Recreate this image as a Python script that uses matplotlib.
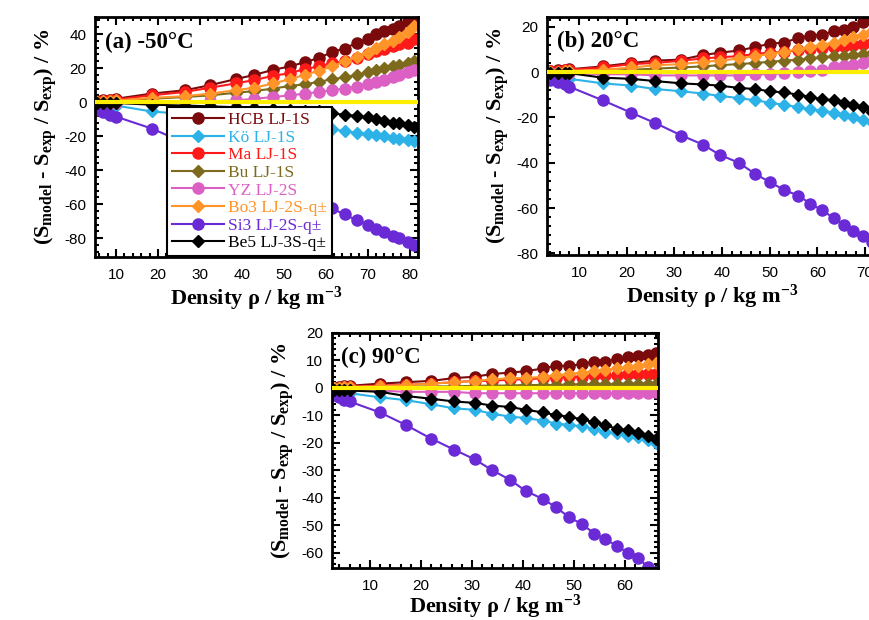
import matplotlib
matplotlib.use('Agg')
import matplotlib.pyplot as plt
from matplotlib.ticker import MultipleLocator, AutoMinorLocator
from matplotlib.lines import Line2D

plt.rcParams['font.family'] = 'Liberation Sans'
plt.rcParams['axes.unicode_minus'] = False
plt.rcParams['mathtext.fontset'] = 'custom'
plt.rcParams['mathtext.bf'] = 'Liberation Serif:bold'
plt.rcParams['mathtext.rm'] = 'Liberation Serif:bold'
plt.rcParams['mathtext.default'] = 'bf'

names = ['HCB LJ-1S', 'Kö LJ-1S', 'Ma LJ-1S', 'Bu LJ-1S', 'YZ LJ-2S',
         'Bo3 LJ-2S-q±', 'Si3 LJ-2S-q±', 'Be5 LJ-3S-q±']
colors = ['#7a0a0c', '#2cb2e6', '#ff1a1a', '#7d6a1c', '#dc5fc4',
          '#ff9428', '#6a2ad6', '#000000']
markers = ['o', 'D', 'o', 'D', 'o', 'D', 'o', 'D']

# (a) -50 C
rho_a = [5.5, 7, 8.5, 10, 18.5, 26.5, 32.5, 38.5, 43, 47.5, 51.5, 55, 58.5, 61.5,
         64.5, 67.5, 70, 72, 74, 76, 77.5, 79.5, 81]
dev_a = {
    'HCB LJ-1S': [0.5, 1, 1.5, 2, 5, 7, 10, 13.5, 16, 19, 21, 23.5, 26, 29.5, 31.5, 35, 37, 40, 42, 43, 45, 47.5, 49],
    'Kö LJ-1S': [-1, -1.5, -2, -2, -5.5, -7, -8.5, -10, -11, -12, -13, -14, -15, -16, -17, -18, -19, -19.5, -20, -21, -21.5, -22.5, -23],
    'Ma LJ-1S': [0.3, 0.8, 1.2, 1.5, 4, 6, 8.5, 11, 13, 15.5, 17, 19.5, 21, 23, 24, 26, 28, 30, 31, 33, 34, 35, 37],
    'Bu LJ-1S': [0, 0.3, 0.5, 0.8, 2, 3, 4, 5.5, 6.5, 8, 9.5, 10.5, 12, 13.5, 14.5, 16, 17.5, 19, 20, 21, 22, 23, 24],
    'YZ LJ-2S': [-0.5, -0.5, -0.5, -0.5, -0.5, 0, 0.5, 1, 2, 3, 4, 5, 6, 7, 8, 9, 10.5, 12, 13, 14.5, 16, 17.5, 19],
    'Bo3 LJ-2S-q±': [0, 0.5, 0.8, 1, 2.5, 3.5, 5, 7, 8.5, 11, 13.5, 16, 18.5, 21, 24, 26.5, 29, 32, 34, 36, 38, 41, 45],
    'Si3 LJ-2S-q±': [-4.5, -6, -7.5, -8.5, -15.5, -24, -30.5, -37, -42, -47, -51.5, -55, -59, -62.5, -66, -69.5, -72, -74.5, -76.5, -78.5, -80, -82, -84],
    'Be5 LJ-3S-q±': [-0.5, -0.5, -0.5, -0.5, -1.5, -2, -2.5, -3, -3.5, -4, -4.5, -5, -5.5, -6.5, -7.5, -8, -9, -10, -11, -12, -12.5, -13.5, -14.5],
}

# (b) 20 C
rho_b = [4, 5.5, 7, 8, 15, 21, 26, 31.5, 36, 39.5, 43.5, 47, 50, 53, 56, 58.5, 61,
         63.5, 65.5, 67.5, 69.5, 71.5]
dev_b = {
    'HCB LJ-1S': [0.5, 0.8, 1, 1.2, 2.5, 4, 5, 5.5, 7.5, 8.5, 9.5, 11, 12.5, 13, 15, 16, 16.5, 18, 18.5, 20, 22, 24],
    'Kö LJ-1S': [-2, -2.5, -3, -3, -5, -6, -7.5, -8.5, -9.5, -10.5, -11.5, -12.5, -13.5, -14.5, -15.5, -16.5, -17, -18, -19, -20, -21, -22],
    'Ma LJ-1S': [0.3, 0.6, 0.8, 1, 2, 3.5, 4, 5, 6, 6.5, 7, 8, 8.5, 9, 9.5, 10, 10.5, 11, 11.5, 12, 12.5, 13],
    'Bu LJ-1S': [0, 0, 0.2, 0.3, 0.5, 1, 1.5, 2, 2.5, 3, 3.5, 4, 4.5, 5, 5.5, 6, 6.5, 7, 7, 7.5, 8, 8.5],
    'YZ LJ-2S': [-0.5, -0.5, -0.5, -0.5, -1, -1, -1.5, -1.5, -1.5, -1.5, -1.5, -1, -1, -0.5, 0, 0.5, 1, 2, 2.5, 3, 4, 5],
    'Bo3 LJ-2S-q±': [0, 0.2, 0.4, 0.5, 1, 2, 3, 3.5, 4.5, 5, 6, 7, 8, 9, 10, 11, 12, 13, 14, 15.5, 16.5, 18],
    'Si3 LJ-2S-q±': [-3.5, -4.5, -5.5, -6.5, -12.5, -18, -22.5, -28, -32, -36.5, -40, -45, -48.5, -52, -54.5, -58, -61, -64.5, -67.5, -70, -72.5, -75],
    'Be5 LJ-3S-q±': [-0.5, -0.5, -0.5, -0.5, -2.5, -3, -4, -5, -5.5, -6, -7, -7.5, -8.5, -9, -10, -11, -12, -12.5, -13.5, -14.5, -15.5, -17.5],
}

# (c) 90 C
rho_c = [3, 4, 5, 6, 12, 17, 22, 26.5, 30.5, 34, 37.5, 40.5, 44, 46.5, 49, 51.5,
         54, 56, 58.5, 60.5, 62.5, 64.5, 66]
dev_c = {
    'HCB LJ-1S': [0, 0.3, 0.5, 0.7, 1.5, 2, 2.5, 3.5, 4, 5, 5.5, 6, 7, 8, 8, 8.5, 9.5, 9.5, 10.5, 11, 11.5, 12, 12.5],
    'Kö LJ-1S': [-1.5, -1.5, -2, -2, -3.5, -4.5, -6, -7.5, -8, -9.5, -10.5, -11, -12, -13, -13.5, -14, -15, -16, -16.5, -17.5, -18, -19, -20],
    'Ma LJ-1S': [0, 0, 0.2, 0.3, 0.8, 1, 1.5, 2, 2.5, 2.5, 3, 3, 3.5, 3.5, 4, 4, 4.5, 4.5, 4.5, 5, 5, 5, 5],
    'Bu LJ-1S': [0, 0, 0, 0, 0.2, 0.3, 0.5, 0.5, 0.7, 0.8, 0.8, 1, 1, 1, 1.2, 1.2, 1.3, 1.3, 1.4, 1.5, 1.5, 1.5, 1.5],
    'YZ LJ-2S': [-0.5, -0.5, -0.5, -0.5, -1, -1.5, -1.5, -1.5, -2, -2, -2, -2, -2, -2, -2, -2, -2, -2, -2, -2, -2, -2, -1.5],
    'Bo3 LJ-2S-q±': [0, 0, 0.2, 0.3, 0.5, 1, 1.5, 2, 2.5, 3, 3.5, 3.5, 4, 4.5, 5, 5.5, 6, 6.5, 7, 7.5, 8, 8.5, 9],
    'Si3 LJ-2S-q±': [-2.5, -3.5, -4.5, -5, -9, -13.5, -18.5, -22.5, -26, -30, -33.5, -37.5, -40.5, -43.5, -47, -49.5, -53, -55, -57.5, -60, -62, -65, -67],
    'Be5 LJ-3S-q±': [-1, -1, -1, -1, -1.5, -3, -4, -5, -5.5, -6.5, -7, -8, -9, -10, -10.5, -11.5, -12.5, -13.5, -15, -15.5, -16.5, -17.5, -18.5],
}

ylabel = r'(S$_{model}$ - S$_{exp}$ / S$_{exp}$) / %'
xlabel = r'Density $\rho$ / kg m$^{-3}$'

fig = plt.figure(figsize=(8.69, 6.2), dpi=100)

panels = [
    ([0.1093, 0.5855, 0.3717, 0.387], rho_a, dev_a, '(a) -50°C', (5, 82), (-91, 50), 20, 2),
    ([0.6295, 0.5887, 0.3797, 0.384], rho_b, dev_b, '(b) 20°C', (3.3, 72.5), (-80.7, 24.3), 20, 2),
    ([0.3817, 0.0839, 0.3751, 0.3795], rho_c, dev_c, '(c) 90°C', (2.5, 66.4), (-65.5, 20), 10, 0),
]

for rect, rho, dev, title, xl, yl, ystep, xpad in panels:
    ax = fig.add_axes(rect)
    for name, c, m in zip(names, colors, markers):
        ms = 8 if m == 'o' else 6.5
        ax.plot(rho, dev[name], color=c, marker=m, markersize=ms, lw=1.5)
    ax.axhline(0, color='#ffee00', lw=3, zorder=5)
    ax.set_xlim(*xl)
    ax.set_ylim(*yl)
    ax.xaxis.set_major_locator(MultipleLocator(10))
    ax.yaxis.set_major_locator(MultipleLocator(ystep))
    ax.xaxis.set_minor_locator(AutoMinorLocator(5))
    ax.yaxis.set_minor_locator(AutoMinorLocator(5))
    ax.tick_params(which='both', direction='in', top=True, right=True,
                   labelsize=11, width=1.5, colors='black')
    ax.tick_params(which='major', length=6)
    ax.tick_params(which='minor', length=3)
    ax.tick_params(axis='x', which='major', pad=8)
    ax.tick_params(axis='y', which='major', pad=6)
    for sp in ax.spines.values():
        sp.set_linewidth(2)
    ax.set_xlabel(xlabel, fontsize=16, fontfamily='Liberation Serif',
                  fontweight='bold', labelpad=xpad)
    ax.set_ylabel(ylabel, fontsize=16, fontfamily='Liberation Serif',
                  fontweight='bold', labelpad=4)
    ax.text(0.03, 0.94, title, transform=ax.transAxes, fontsize=16.5,
            fontfamily='Liberation Serif', fontweight='bold', va='top', ha='left',
            zorder=10)

handles = [Line2D([0], [0], color=c, marker=m, markersize=(8 if m == 'o' else 6.5), lw=1.5)
           for c, m in zip(colors, markers)]
leg = fig.legend(handles, names, loc='upper left', bbox_to_anchor=(0.192, 0.8274),
                 borderaxespad=0, fancybox=False, edgecolor='black', framealpha=1,
                 prop={'family': 'Liberation Serif', 'size': 12.5}, handlelength=3,
                 labelspacing=0.08, handletextpad=0.2, borderpad=0.3)
leg.get_frame().set_linewidth(1.5)
leg.set_zorder(20)
for t, c in zip(leg.get_texts(), colors):
    t.set_color(c)

fig.savefig('out.png', dpi=100)
